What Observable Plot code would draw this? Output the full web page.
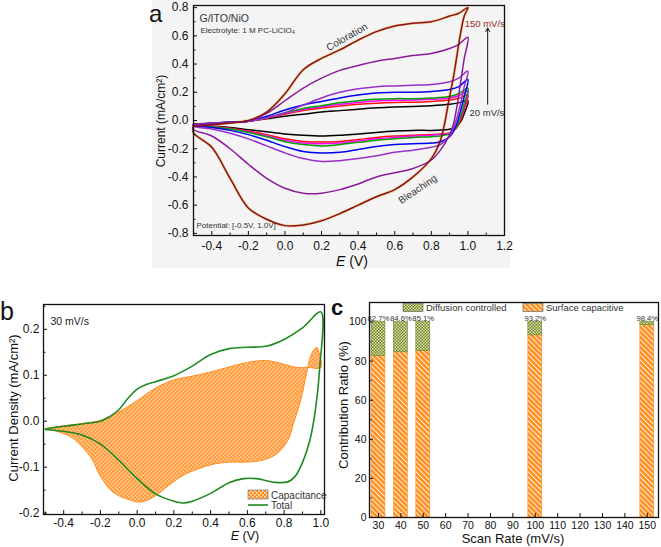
<!DOCTYPE html>
<html><head><meta charset="utf-8">
<script src="https://cdn.jsdelivr.net/npm/d3@7"></script>
<script src="https://cdn.jsdelivr.net/npm/@observablehq/plot@0.6"></script>
<style>
body{margin:0;background:#fff;font-family:"Liberation Sans",Arial,sans-serif;}
#wrap{position:relative;width:661px;height:547px;overflow:hidden;background:#fff;}
.abs{position:absolute;}
</style></head><body>
<svg width="0" height="0" style="position:absolute">
<defs>
<pattern id="chk" width="4" height="4" patternUnits="userSpaceOnUse">
 <rect width="4" height="4" fill="#ff8d1e"/>
 <rect x="0" y="0" width="1.6" height="1.6" fill="#fff3e6"/>
 <rect x="2" y="2" width="1.6" height="1.6" fill="#fff3e6"/>
</pattern>
<pattern id="hatch" width="3.6" height="3.6" patternUnits="userSpaceOnUse" patternTransform="rotate(-45)">
 <rect width="3.6" height="3.6" fill="#ff8c1a"/>
 <rect x="0" y="0" width="1.1" height="3.6" fill="#fff0e0"/>
</pattern>
<pattern id="olive" width="3" height="3" patternUnits="userSpaceOnUse">
 <rect width="3" height="3" fill="#6f8426"/>
 <rect x="0" y="0" width="1.5" height="1.5" fill="#dfe3ad"/>
 <rect x="1.5" y="1.5" width="1.5" height="1.5" fill="#dfe3ad"/>
</pattern>
</defs></svg>
<div id="wrap">
 <div class="abs" style="left:152px;top:0;width:358px;height:268px;background:#f4f4f4"></div>
 <div id="pa" class="abs" style="left:140px;top:0"></div>
 <div id="pb" class="abs" style="left:0;top:300px"></div>
 <div id="pc" class="abs" style="left:330px;top:300px"></div>
 <svg id="ov" class="abs" style="left:0;top:0;pointer-events:none" width="661" height="547"></svg>
</div>
<script>
// ---------- Panel a: CV curves at different scan rates ----------
const aRates  = [20, 30, 40, 50, 60, 80, 100, 150];
const aColors = ["#000000", "#ff1010", "#ff00ff", "#00a000", "#0000ee", "#9b30c8", "#8a1a9a", "#8b1020"];
const aEUp  = [-0.5,-0.4,-0.3,-0.2,-0.1,0,0.1,0.2,0.3,0.4,0.5,0.6,0.7,0.8,0.9,0.95,1.0];
const aELow = [0.98,0.96,0.94,0.92,0.9,0.85,0.8,0.7,0.6,0.5,0.4,0.3,0.2,0.1,0,-0.1,-0.2,-0.3,-0.4,-0.5];
const aUp20  = [-0.025,-0.018,-0.012,-0.005,0.012,0.03,0.045,0.06,0.07,0.08,0.09,0.095,0.1,0.105,0.115,0.125,0.14];
const aUp30  = [-0.027,-0.02,-0.012,-0.005,0.016,0.045,0.07,0.088,0.103,0.115,0.123,0.128,0.13,0.135,0.145,0.157,0.18];
const aUp40  = [-0.028,-0.02,-0.012,-0.005,0.018,0.05,0.078,0.098,0.115,0.128,0.138,0.143,0.145,0.15,0.16,0.175,0.21];
const aUp50  = [-0.03,-0.02,-0.012,-0.005,0.02,0.055,0.085,0.105,0.125,0.14,0.15,0.155,0.155,0.16,0.17,0.19,0.23];
const aUp60  = [-0.03,-0.02,-0.012,-0.005,0.03,0.075,0.11,0.135,0.16,0.18,0.195,0.2,0.2,0.205,0.22,0.24,0.29];
const aUp80  = [-0.03,-0.02,-0.012,-0.005,0.02,0.055,0.11,0.16,0.2,0.225,0.24,0.245,0.25,0.255,0.275,0.3,0.35];
const aUp100 = [-0.035,-0.025,-0.014,-0.003,0.05,0.14,0.23,0.3,0.355,0.39,0.42,0.44,0.46,0.475,0.51,0.54,0.59];
const aUp150 = [-0.04,-0.03,-0.017,0.0,0.06,0.19,0.36,0.44,0.5,0.57,0.63,0.67,0.69,0.7,0.74,0.76,0.8];
const aLow20  = [0.05,-0.01,-0.04,-0.055,-0.062,-0.068,-0.07,-0.07,-0.075,-0.085,-0.095,-0.105,-0.11,-0.105,-0.095,-0.08,-0.065,-0.05,-0.04,-0.03];
const aLow30  = [0.08,0.0,-0.05,-0.075,-0.09,-0.095,-0.1,-0.105,-0.11,-0.12,-0.135,-0.148,-0.152,-0.148,-0.13,-0.1,-0.075,-0.055,-0.04,-0.03];
const aLow40  = [0.1,0.02,-0.04,-0.07,-0.09,-0.1,-0.105,-0.11,-0.12,-0.13,-0.145,-0.16,-0.165,-0.16,-0.14,-0.11,-0.08,-0.058,-0.043,-0.03];
const aLow50  = [0.12,0.03,-0.04,-0.075,-0.095,-0.11,-0.115,-0.12,-0.13,-0.14,-0.155,-0.17,-0.18,-0.17,-0.15,-0.115,-0.085,-0.06,-0.045,-0.03];
const aLow60  = [0.17,0.07,-0.02,-0.08,-0.115,-0.15,-0.16,-0.165,-0.17,-0.185,-0.205,-0.225,-0.23,-0.22,-0.185,-0.14,-0.1,-0.07,-0.05,-0.035];
const aLow80  = [0.24,0.12,0.02,-0.06,-0.11,-0.17,-0.19,-0.21,-0.225,-0.25,-0.27,-0.285,-0.29,-0.27,-0.23,-0.18,-0.13,-0.09,-0.06,-0.04];
const aLow100 = [0.44,0.27,0.1,-0.03,-0.1,-0.21,-0.28,-0.34,-0.37,-0.4,-0.45,-0.49,-0.515,-0.515,-0.48,-0.41,-0.31,-0.2,-0.11,-0.063];
const aLow150 = [0.74,0.62,0.46,0.3,0.17,-0.14,-0.27,-0.4,-0.49,-0.54,-0.6,-0.66,-0.71,-0.74,-0.745,-0.7,-0.62,-0.41,-0.19,-0.087];
const aUp  = [aUp20, aUp30, aUp40, aUp50, aUp60, aUp80, aUp100, aUp150];
const aLow = [aLow20, aLow30, aLow40, aLow50, aLow60, aLow80, aLow100, aLow150];
const aXTicks = [-0.4,-0.2,0,0.2,0.4,0.6,0.8,1.0,1.2];
const aXMinor = [-0.5,-0.3,-0.1,0.1,0.3,0.5,0.7,0.9,1.1];
const aYTicks = [-0.8,-0.6,-0.4,-0.2,0,0.2,0.4,0.6,0.8];
const aYMinor = [-0.7,-0.5,-0.3,-0.1,0.1,0.3,0.5,0.7];
const aNotes = [
  {E: 0.339, I: 0.592, text: "Coloration", rot: -30},
  {E: 0.725, I: -0.488, text: "Bleaching", rot: -34}
];
const aRateNotes = [
  {E: 1.092, I: 0.684, text: "150 mV/s", color: "#9a2a2a"},
  {E: 1.104, I: 0.050, text: "20 mV/s", color: "#333333"}
];
const aArrow = [{E: 1.108, I1: 0.115, I2: 0.655}];

// ---------- Panel b: capacitive contribution at 30 mV/s ----------
const bTotUpE  = [-0.5,-0.4,-0.3,-0.2,-0.15,-0.1,-0.05,0,0.05,0.1,0.2,0.3,0.4,0.5,0.6,0.7,0.8,0.9,1.0];
const bTotUp   = [-0.017,-0.011,-0.006,0.0,0.01,0.025,0.05,0.07,0.08,0.086,0.099,0.12,0.145,0.158,0.161,0.163,0.178,0.203,0.238];
const bTotLoE  = [0.994,0.97,0.94,0.9,0.86,0.82,0.75,0.65,0.58,0.5,0.4,0.3,0.25,0.2,0.1,0.0,-0.1,-0.2,-0.3,-0.4,-0.5];
const bTotLo   = [0.117,0.023,-0.042,-0.09,-0.12,-0.132,-0.133,-0.125,-0.125,-0.134,-0.157,-0.174,-0.178,-0.174,-0.158,-0.125,-0.085,-0.05,-0.03,-0.022,-0.018];
const bCapUpE  = [-0.5,-0.4,-0.3,-0.2,-0.1,0,0.1,0.2,0.3,0.4,0.5,0.6,0.7,0.8,0.87,0.93,1.0];
const bCapUp   = [-0.016,-0.01,-0.005,0.002,0.02,0.045,0.072,0.09,0.098,0.107,0.118,0.128,0.132,0.124,0.117,0.117,0.117];
const bCapLoE  = [0.99,0.98,0.96,0.94,0.92,0.89,0.85,0.82,0.76,0.69,0.6,0.5,0.42,0.33,0.25,0.17,0.1,0.02,-0.05,-0.13,-0.2,-0.25,-0.35,-0.42,-0.5];
const bCapLo   = [0.15,0.161,0.154,0.136,0.1,0.045,-0.006,-0.042,-0.071,-0.084,-0.089,-0.089,-0.093,-0.104,-0.118,-0.14,-0.162,-0.176,-0.17,-0.155,-0.12,-0.08,-0.037,-0.024,-0.016];
const bXTicks = [-0.4,-0.2,0,0.2,0.4,0.6,0.8,1.0];
const bXMinor = [-0.5,-0.3,-0.1,0.1,0.3,0.5,0.7,0.9];
const bYTicks = [-0.2,-0.1,0,0.1,0.2];
const bYMinor = [-0.15,-0.05,0.05,0.15,0.25];

// ---------- Panel c: contribution ratios ----------
const cRates   = [30, 40, 50, 100, 150];
const cSurface = [82.7, 84.6, 85.1, 93.2, 98.4];
const cLabels  = ["82.7%", "84.6%", "85.1%", "93.2%", "98.4%"];
const cXTicks  = [30,40,50,60,70,80,90,100,110,120,130,140,150];
const cYTicks  = [0,20,40,60,80,100];
const cYMinor  = [10,30,50,70,90];

const font = "'Liberation Sans', Arial, sans-serif";
const fmt1 = d => d.toFixed(1);
const noText = () => "";

function axes(xt, xm, yt, ym, xf, yf, xpad, ypad) {
  return [
    Plot.axisX(xt, {anchor: "bottom", tickSize: -4, tickPadding: xpad, tickFormat: xf, label: null, stroke: "#111"}),
    Plot.axisX(xm, {anchor: "bottom", tickSize: -2.5, tickFormat: noText, label: null, stroke: "#111"}),
    Plot.axisY(yt, {anchor: "left", tickSize: -4, tickPadding: ypad, tickFormat: yf, label: null, stroke: "#111"}),
    Plot.axisY(ym, {anchor: "left", tickSize: -2.5, tickFormat: noText, label: null, stroke: "#111"})
  ];
}

// panel a rows
const aSeries = aRates.map((r, k) => {
  const rows = [];
  aEUp.forEach((e, i) => rows.push({rate: r, E: e, I: aUp[k][i]}));
  aELow.forEach((e, i) => rows.push({rate: r, E: e, I: aLow[k][i]}));
  rows.push({rate: r, E: aEUp[0], I: aUp[k][0]});
  return rows;
});

const pa = Plot.plot({
  width: 380, height: 270, marginLeft: 53, marginRight: 16, marginTop: 5, marginBottom: 35,
  style: {background: "none", fontFamily: font, fontSize: "12px", color: "#111", overflow: "visible"},
  x: {domain: [-0.5, 1.2]},
  y: {domain: [-0.815, 0.815]},
  marks: [
    Plot.line(aSeries[7], {x: "E", y: "I", stroke: "#e6c24a", strokeWidth: 3, strokeOpacity: 0.55, curve: "catmull-rom"}),
    ...aSeries.map((rows, k) => Plot.line(rows, {x: "E", y: "I", stroke: aColors[k], strokeWidth: 1.5, curve: "catmull-rom"})),
    Plot.text(aNotes, {x: "E", y: "I", text: "text", rotate: "rot", fontSize: 10, fill: "#333"}),
    Plot.text(aRateNotes, {x: "E", y: "I", text: "text", fill: "color", fontSize: 9.5}),
    Plot.arrow(aArrow, {x1: "E", x2: "E", y1: "I1", y2: "I2", stroke: "#111", strokeWidth: 1, headLength: 6}),
    Plot.text(["G/ITO/NiO"], {frameAnchor: "top-left", dx: 6, dy: 9, fontSize: 10.5, fill: "#333"}),
    Plot.text(["Electrolyte: 1 M PC-LiClO\u2084"], {frameAnchor: "top-left", dx: 7, dy: 22, fontSize: 8, fill: "#333"}),
    Plot.text(["Potential: [-0.5V, 1.0V]"], {frameAnchor: "bottom-left", dx: 3, dy: -8, fontSize: 8, fill: "#333"}),
    ...axes(aXTicks, aXMinor, aYTicks, aYMinor, fmt1, fmt1, 10, 9),
    Plot.frame({stroke: "#111", strokeWidth: 1.3})
  ]
});
document.getElementById("pa").append(pa);

// panel b
const bTotal = [];
bTotUpE.forEach((e, i) => bTotal.push({E: e, I: bTotUp[i]}));
bTotLoE.forEach((e, i) => bTotal.push({E: e, I: bTotLo[i]}));
const bCap = [];
bCapUpE.forEach((e, i) => bCap.push({E: e, I: bCapUp[i]}));
bCapLoE.forEach((e, i) => bCap.push({E: e, I: bCapLo[i]}));

const pb = Plot.plot({
  width: 330, height: 247, marginLeft: 43, marginRight: 6, marginTop: 4, marginBottom: 33,
  style: {background: "none", fontFamily: font, fontSize: "12px", color: "#111", overflow: "visible"},
  x: {domain: [-0.51, 1.02]},
  y: {domain: [-0.203, 0.254]},
  marks: [
    Plot.line(bCap, {x: "E", y: "I", fill: "url(#chk)", stroke: "#ff8c1a", strokeWidth: 1, curve: "catmull-rom"}),
    Plot.line(bTotal, {x: "E", y: "I", stroke: "#1f8a1f", strokeWidth: 1.6, curve: "catmull-rom"}),
    Plot.text(["30 mV/s"], {frameAnchor: "top-left", dx: 7, dy: 13, fontSize: 10.5, fill: "#222"}),
    ...axes(bXTicks, bXMinor, bYTicks, bYMinor, fmt1, fmt1, 8, 8),
    Plot.frame({stroke: "#111", strokeWidth: 1.3})
  ]
});
document.getElementById("pb").append(pb);

// panel c
const cRows = cRates.map((r, i) => ({rate: r, surface: cSurface[i], label: cLabels[i]}));
const pc = Plot.plot({
  width: 331, height: 247, marginLeft: 39, marginRight: 3, marginTop: 2, marginBottom: 30,
  style: {background: "none", fontFamily: font, fontSize: "10.5px", color: "#111", overflow: "visible"},
  x: {domain: [26, 155]},
  y: {domain: [0, 110]},
  marks: [
    Plot.rect(cRows, {x1: d => d.rate - 3.1, x2: d => d.rate + 3.1, y1: 0, y2: "surface", fill: "url(#hatch)", stroke: "#ff8c1a", strokeWidth: 0.6}),
    Plot.rect(cRows, {x1: d => d.rate - 3.1, x2: d => d.rate + 3.1, y1: "surface", y2: 100, fill: "url(#olive)", stroke: "#6f8426", strokeWidth: 0.6}),
    Plot.text(cRows, {x: "rate", y: 100, text: "label", dy: -4, fontSize: 7.7, fill: "#333"}),
    Plot.axisX(cXTicks, {anchor: "bottom", tickSize: -4, tickPadding: 8, label: null, stroke: "#111"}),
    Plot.axisY(cYTicks, {anchor: "left", tickSize: -4, tickPadding: 7, label: null, stroke: "#111"}),
    Plot.axisY(cYMinor, {anchor: "left", tickSize: -2.5, tickFormat: noText, label: null, stroke: "#111"}),
    Plot.frame({stroke: "#111", strokeWidth: 1.3})
  ]
});
document.getElementById("pc").append(pc);

// ---------- overlay: panel letters, axis titles, legends ----------
const ov = d3.select("#ov").style("font-family", font);
function txt(x, y, s, size, opts = {}) {
  const t = ov.append("text").attr("x", x).attr("y", y).attr("font-size", size).attr("fill", opts.fill || "#111");
  if (opts.anchor) t.attr("text-anchor", opts.anchor);
  if (opts.weight) t.attr("font-weight", opts.weight);
  if (opts.rotate) t.attr("transform", `rotate(${opts.rotate},${x},${y})`);
  t.text(s);
  return t;
}
txt(149, 21.5, "a", 24);
txt(0, 320, "b", 25);
txt(331, 315, "c", 22, {weight: "bold"});
txt(165, 121, "Current (mA/cm\u00b2)", 12, {anchor: "middle", rotate: -90});
txt(18, 408, "Current Density (mA/cm\u00b2)", 13, {anchor: "middle", rotate: -90});
txt(348, 405, "Contribution Ratio (%)", 13, {anchor: "middle", rotate: -90});
txt(513, 543, "Scan Rate (mV/s)", 13, {anchor: "middle"});
function eLabel(x, y, size) {
  const t = ov.append("text").attr("x", x).attr("y", y).attr("font-size", size).attr("text-anchor", "middle").attr("fill", "#111");
  t.append("tspan").attr("font-style", "italic").text("E");
  t.append("tspan").text(" (V)");
}
eLabel(352, 265.5, 14);
eLabel(245, 540, 12.5);
// legend b
ov.append("rect").attr("x", 248).attr("y", 490).attr("width", 20).attr("height", 9).attr("fill", "url(#chk)").attr("stroke", "#777").attr("stroke-width", 0.7);
txt(271, 498.5, "Capacitance", 10, {fill: "#333"});
ov.append("line").attr("x1", 248).attr("x2", 268).attr("y1", 505).attr("y2", 505).attr("stroke", "#1f8a1f").attr("stroke-width", 1.6);
txt(271, 509, "Total", 10, {fill: "#333"});
// legend c
ov.append("rect").attr("x", 403).attr("y", 303.5).attr("width", 20).attr("height", 8).attr("fill", "url(#olive)").attr("stroke", "#555").attr("stroke-width", 0.6);
txt(426, 311, "Diffusion controlled", 9.5, {fill: "#333"});
ov.append("rect").attr("x", 523).attr("y", 303.5).attr("width", 20).attr("height", 8).attr("fill", "url(#hatch)").attr("stroke", "#555").attr("stroke-width", 0.6);
txt(546, 311, "Surface capacitive", 9.5, {fill: "#333"});
</script>
</body></html>
